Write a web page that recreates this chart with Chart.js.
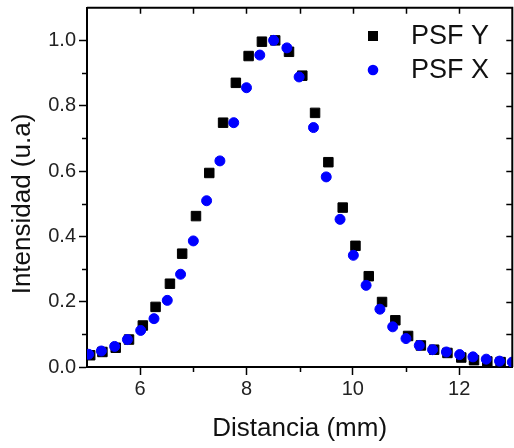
<!DOCTYPE html>
<html><head><meta charset="utf-8">
<script src="https://cdn.jsdelivr.net/npm/chart.js@4/dist/chart.umd.min.js"></script>
<style>html,body{margin:0;padding:0;overflow:hidden;background:#fff;width:514px;height:448px}
canvas{display:block}</style></head>
<body><canvas id="c" width="520" height="448" style="width:520px;height:448px"></canvas>
<script>
const psfYDist = [5.06, 5.29, 5.54, 5.79, 6.05, 6.29, 6.56, 6.79, 7.05, 7.30, 7.56, 7.80, 8.04, 8.29, 8.54, 8.80, 9.05, 9.29, 9.54, 9.81, 10.05, 10.30, 10.55, 10.80, 11.04, 11.28, 11.53, 11.78, 12.04, 12.28, 12.53, 12.78];
const psfYInt = [0.036, 0.046, 0.059, 0.084, 0.127, 0.184, 0.255, 0.347, 0.462, 0.594, 0.748, 0.870, 0.952, 0.996, 1.000, 0.965, 0.892, 0.778, 0.627, 0.488, 0.371, 0.278, 0.199, 0.143, 0.095, 0.066, 0.053, 0.043, 0.029, 0.021, 0.017, 0.015];
const psfXDist = [5.03, 5.27, 5.52, 5.76, 6.01, 6.26, 6.51, 6.76, 7.00, 7.25, 7.50, 7.76, 8.00, 8.25, 8.51, 8.76, 8.99, 9.26, 9.50, 9.76, 10.01, 10.25, 10.51, 10.75, 11.00, 11.25, 11.50, 11.76, 12.01, 12.26, 12.51, 12.76, 13.00];
const psfXInt = [0.039, 0.049, 0.063, 0.084, 0.112, 0.148, 0.204, 0.284, 0.386, 0.509, 0.631, 0.748, 0.855, 0.955, 1.000, 0.977, 0.888, 0.733, 0.582, 0.452, 0.342, 0.250, 0.177, 0.123, 0.087, 0.066, 0.053, 0.046, 0.038, 0.031, 0.024, 0.018, 0.015];
const xTickValues = [6, 8, 10, 12];
const yTickValues = [0, 0.2, 0.4, 0.6, 0.8, 1.0];
const xTitle = 'Distancia (mm)';
const yTitle = 'Intensidad (u.a)';
const seriesLabels = ['PSF Y', 'PSF X'];

const FAM = "'Liberation Sans', Arial, sans-serif";

const framePlugin = {
  id: 'frame',
  afterDraw(chart) {
    const {ctx, chartArea: a, scales: {x, y}} = chart;
    ctx.save();
    ctx.strokeStyle = '#000';
    ctx.lineWidth = 2;
    ctx.beginPath();
    ctx.moveTo(a.left, a.top); ctx.lineTo(a.right, a.top); ctx.lineTo(a.right, a.bottom);
    ctx.stroke();
    ctx.lineWidth = 1.5;
    ctx.beginPath();
    for (let v = 6; v <= 12; v++) {
      const px = Math.round(x.getPixelForValue(v)) + 0.5;
      if (v % 2 === 1) { ctx.moveTo(px, a.bottom); ctx.lineTo(px, a.bottom + 5); }
      ctx.moveTo(px, a.top); ctx.lineTo(px, a.top + 6);
    }
    for (let k = 1; k <= 10; k++) {
      const py = Math.round(y.getPixelForValue(k / 10)) + 0.5;
      if (k % 2 === 1) { ctx.moveTo(a.left, py); ctx.lineTo(a.left - 5, py); }
      ctx.moveTo(a.right, py); ctx.lineTo(a.right - 6, py);
    }
    ctx.stroke();
    // y axis title
    ctx.save();
    ctx.translate(23, 204);
    ctx.rotate(-Math.PI / 2);
    ctx.font = '26px ' + FAM;
    ctx.fillStyle = '#111';
    ctx.textAlign = 'center';
    ctx.textBaseline = 'middle';
    ctx.fillText(yTitle, 0, 0);
    ctx.restore();
    // legend
    const items = [
      {ds: chart.data.datasets[1], cy: 36},
      {ds: chart.data.datasets[0], cy: 70}
    ];
    ctx.font = '27px ' + FAM;
    ctx.textBaseline = 'middle';
    ctx.textAlign = 'left';
    items.forEach(it => {
      ctx.fillStyle = it.ds.backgroundColor;
      if (it.ds.pointStyle === 'rect') {
        ctx.fillRect(368, it.cy - 5, 10, 10);
      } else {
        ctx.beginPath(); ctx.arc(373, it.cy, 5.3, 0, Math.PI * 2); ctx.fill();
      }
      ctx.fillStyle = '#111';
      ctx.fillText(it.ds.label, 411, it.cy + 1);
    });
    ctx.restore();
  }
};

new Chart(document.getElementById('c'), {
  type: 'scatter',
  data: {
    datasets: [
      {label: seriesLabels[1], data: psfXDist.map((d, i) => ({x: d, y: psfXInt[i]})),
       pointStyle: 'circle', pointRadius: 5, backgroundColor: '#0000ff', borderColor: '#0000ff', borderWidth: 1},
      {label: seriesLabels[0], data: psfYDist.map((d, i) => ({x: d, y: psfYInt[i]})),
       pointStyle: 'rect', pointRadius: 6.7, backgroundColor: '#000000', borderColor: '#000000', borderWidth: 1}
    ]
  },
  options: {
    responsive: false, animation: false, devicePixelRatio: 1,
    layout: {padding: {top: 7, right: 4, left: 0, bottom: 0}},
    plugins: {legend: {display: false}, tooltip: {enabled: false}},
    scales: {
      x: {
        type: 'linear', position: 'bottom', min: 5, max: 13,
        afterBuildTicks(s) { s.ticks = xTickValues.map(v => ({value: v})); },
        afterFit(s) { s.height = 81; s.paddingLeft = 0; s.paddingRight = 0; },
        border: {color: '#000', width: 2},
        grid: {drawOnChartArea: false, tickLength: 8, tickColor: '#000', tickWidth: 1.5},
        ticks: {color: '#222', font: {family: FAM, size: 20}, padding: 2, maxRotation: 0},
        title: {display: true, text: xTitle, color: '#111', font: {family: FAM, size: 26}, padding: {top: 0, bottom: 4}}
      },
      y: {
        type: 'linear', position: 'left', min: 0, max: 1.1,
        afterBuildTicks(s) { s.ticks = yTickValues.map(v => ({value: v})); },
        afterFit(s) { s.width = 87; s.paddingTop = 0; s.paddingBottom = 0; },
        border: {color: '#000', width: 2},
        grid: {drawOnChartArea: false, tickLength: 8, tickColor: '#000', tickWidth: 1.5},
        ticks: {color: '#222', font: {family: FAM, size: 20}, padding: 3,
                callback: v => Number(v).toFixed(1)},
        title: {display: false}
      }
    }
  },
  plugins: [framePlugin]
});
</script>
</body></html>
